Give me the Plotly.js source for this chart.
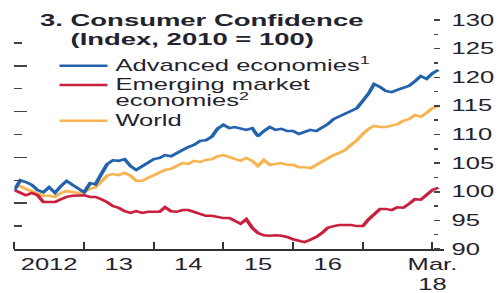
<!DOCTYPE html>
<html>
<head>
<meta charset="utf-8">
<script src="https://cdn.plot.ly/plotly-3.0.1.min.js"></script>
<style>
  html, body { margin: 0; padding: 0; background: #fff; overflow: hidden; }
  #chart { width: 313px; height: 293px; transform: scaleX(1.59744); transform-origin: 0 0; }
</style>
</head>
<body>
<div id="chart"></div>
<script>
// Monthly observations, Jan 2012 .. Feb 2018
const startYear = 2012;
const nMonths = 74;

const advanced = [100.3, 102.0, 101.7, 101.2, 100.3, 99.9, 100.8, 99.8, 101.0, 101.9, 101.2, 100.5,
  99.9, 101.5, 101.3, 103.1, 104.8, 105.5, 105.4, 105.7, 104.5, 103.8, 104.5, 105.0,
  105.7, 105.9, 106.4, 106.2, 106.8, 107.3, 107.8, 108.2, 108.9, 109.0, 109.6, 111.0,
  111.7, 111.1, 111.3, 111.0, 110.8, 111.1, 109.7, 110.6, 111.3, 110.8, 111.0, 110.6,
  110.6, 110.1, 110.4, 110.8, 110.6, 111.3, 111.8, 112.7, 113.2, 113.6, 114.1, 114.6,
  115.9, 117.2, 118.8, 118.3, 117.6, 117.4, 117.8, 118.1, 118.5, 119.3, 120.2, 119.7,
  120.7, 121.3];

const emerging = [100.3, 99.8, 99.4, 99.8, 99.4, 98.2, 98.2, 98.2, 98.7, 99.1, 99.3, 99.3,
  99.4, 99.1, 99.1, 98.7, 98.2, 97.5, 97.2, 96.6, 96.3, 96.6, 96.3, 96.5,
  96.5, 96.5, 97.3, 96.6, 96.5, 96.8, 96.8, 96.5, 96.1, 95.8, 95.8, 95.6,
  95.4, 95.4, 94.9, 94.4, 95.2, 93.7, 92.8, 92.4, 92.3, 92.4, 92.3, 92.1,
  91.7, 91.4, 91.2, 91.6, 92.1, 92.8, 93.7, 94.0, 94.2, 94.2, 94.2, 94.0,
  94.0, 95.2, 96.1, 97.0, 97.0, 96.8, 97.3, 97.2, 97.9, 98.7, 98.6, 99.4,
  100.3, 100.7];

const world = [100.8, 101.0, 100.5, 100.1, 99.8, 99.3, 99.3, 99.1, 99.8, 100.1, 99.95, 99.8,
  99.95, 100.5, 100.8, 101.9, 102.8, 103.1, 102.9, 103.3, 102.8, 101.9, 101.9, 102.4,
  102.9, 103.4, 103.8, 104.0, 104.5, 105.0, 104.85, 105.4, 105.2, 105.55, 105.7, 106.2,
  106.4, 106.1, 105.7, 105.4, 105.9, 105.4, 104.5, 105.55, 104.7, 104.85, 105.0, 104.7,
  104.7, 104.3, 104.3, 104.1, 104.7, 105.2, 105.9, 106.4, 106.8, 107.3, 108.2, 109.0,
  110.1, 111.0, 111.5, 111.3, 111.3, 111.5, 111.8, 112.4, 112.7, 113.4, 113.1, 113.8,
  114.6, 115.0];

const xLabelPos = ['2012-07-01', '2013-07-01', '2014-07-01', '2015-07-01', '2016-07-01', '2018-01-01'];
const xLabelText = ['2012', '13', '14', '15', '16', 'Mar.<br>18'];
const yearTicks = ['2012-01-01', '2013-01-01', '2014-01-01', '2015-01-01', '2016-01-01', '2017-01-01', '2018-01-01'];
const leftMajor = [130, 122, 114, 106, 98];
const leftMinor = [126, 118, 110, 102, 94];

const dates = [];
for (let i = 0; i < nMonths; i++) {
  const y = startYear + Math.floor(i / 12);
  const m = (i % 12) + 1;
  dates.push(y + '-' + String(m).padStart(2, '0') + '-01');
}

const BLUE = '#2363ad', RED = '#c9203f', GOLD = '#f6b550';
const TXT = '#23232f';
const FONT = 'Liberation Sans, Arial, sans-serif';
const sized = (s, px) => '<span style="font-size:' + px + 'px">' + s + '</span>';
const leg = s => sized(s, 16);

const traces = [
  { x: dates, y: world, type: 'scatter', mode: 'lines', name: leg('World'), legendrank: 3,
    line: { color: GOLD, width: 2.5 } },
  { x: dates, y: emerging, type: 'scatter', mode: 'lines',
    name: leg('Emerging market') + '<br>' + leg('economies<sup>2</sup>'), legendrank: 2,
    line: { color: RED, width: 2.5 } },
  { x: dates, y: advanced, type: 'scatter', mode: 'lines', name: leg('Advanced economies<sup>1</sup>'), legendrank: 1,
    line: { color: BLUE, width: 2.5 } },
  // empty trace so that the unlabeled left-hand tick axis is drawn
  { x: [], y: [], type: 'scatter', mode: 'lines', yaxis: 'y2', showlegend: false, hoverinfo: 'skip' }
];

const titleText = '<b>' + sized('3. Consumer Confidence', 17.2) + '<br>' +
  sized('&nbsp;&nbsp;&nbsp;&nbsp;(Index, 2010 = 100)', 17.2) + '</b>';

const layout = {
  width: 313, height: 293,
  margin: { l: 9.39, r: 35.05, t: 20, b: 44, pad: 0 },
  paper_bgcolor: '#fff', plot_bgcolor: '#fff',
  font: { family: FONT, color: TXT },
  showlegend: true,
  legend: { x: 0.0865, y: 0.8645, xanchor: 'left', yanchor: 'top', valign: 'top',
            traceorder: 'normal',
            bgcolor: 'rgba(0,0,0,0)', borderwidth: 0, tracegroupgap: 0,
            font: { family: FONT, size: 12.6, color: TXT } },
  title: { text: titleText, xref: 'container', x: 0.08, xanchor: 'left',
           yref: 'container', y: 1 - 26.5 / 293, yanchor: 'top',
           font: { family: FONT, size: 14, color: TXT } },
  xaxis: {
    type: 'date', range: ['2012-01-01', '2018-03-03'],
    tickmode: 'array', tickvals: xLabelPos, ticktext: xLabelText, ticks: '',
    tickfont: { family: FONT, size: 16, color: TXT },
    showgrid: false, zeroline: false,
    showline: true, linecolor: '#333', linewidth: 1.5,
    minor: { tickmode: 'array', tickvals: yearTicks, ticks: 'inside', ticklen: 7, tickwidth: 1.3, tickcolor: '#333', showgrid: false }
  },
  yaxis: {
    range: [90, 130], side: 'right', anchor: 'free', position: 0.972,
    tickmode: 'linear', tick0: 90, dtick: 5,
    ticks: 'outside', ticklen: 4, tickwidth: 1.5, tickcolor: '#444',
    ticklabelstandoff: 4,
    tickfont: { family: FONT, size: 16, color: TXT },
    showgrid: false, zeroline: false, showline: false,
    minor: { dtick: 2.5, tick0: 90, ticks: 'outside', ticklen: 2.5, tickwidth: 1.5, tickcolor: '#444', showgrid: false }
  },
  yaxis2: {
    range: [90, 130], overlaying: 'y', side: 'left', anchor: 'x',
    tickmode: 'array', tickvals: leftMajor, showticklabels: false,
    ticks: 'inside', ticklen: 8, tickwidth: 1.5, tickcolor: '#444',
    showgrid: false, zeroline: false, showline: false,
    minor: { tickmode: 'array', tickvals: leftMinor, ticks: 'inside', ticklen: 4.5, tickwidth: 1.5, tickcolor: '#444', showgrid: false }
  }
};

Plotly.newPlot('chart', traces, layout, { staticPlot: true, displayModeBar: false, responsive: false });
</script>
</body>
</html>
